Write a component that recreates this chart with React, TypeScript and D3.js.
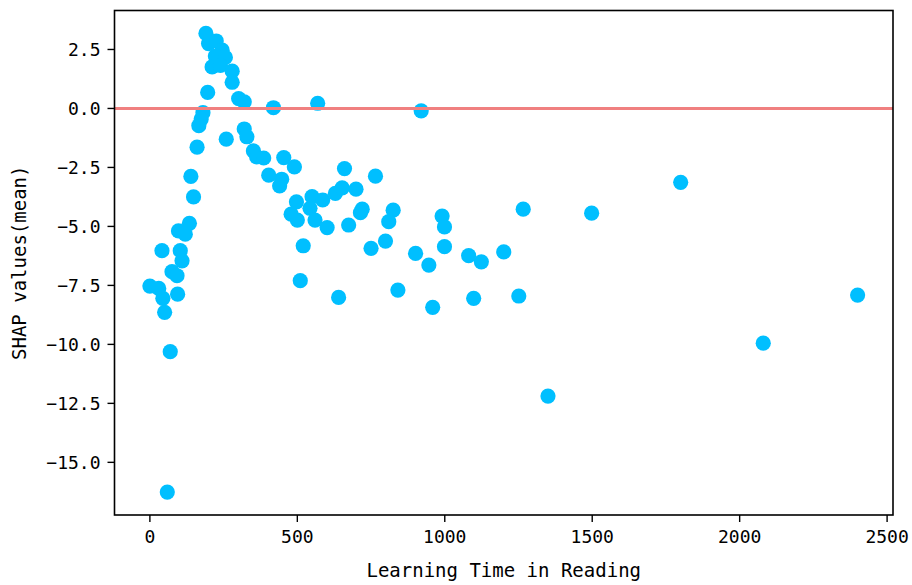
import React from "react";
import * as d3 from "d3";

// learning time (x) and mean SHAP value (y)
const learningTime = [
  190, 199, 225, 245, 222, 256, 211, 239, 279, 279,
  196, 301, 320, 419, 569, 920, 180, 174, 166, 320,
  329, 259, 160, 351, 362, 386, 454, 490, 660, 765,
  403, 139, 447, 440, 148, 497, 550, 586, 629, 652,
  699, 1800, 479, 500, 543, 560, 601, 674, 720, 714,
  825, 810, 991, 999, 1266, 1498, 134, 97, 120, 520,
  750, 799, 901, 946, 999, 1081, 1124, 1200, 41, 103,
  109, 75, 92, 0, 30, 44, 94, 50, 510, 640,
  841, 959, 1098, 1251, 2400, 69, 2080, 1350, 59,
];
const shapMean = [
  3.18, 2.75, 2.86, 2.47, 2.22, 2.16, 1.76, 1.83, 1.58, 1.11,
  0.68, 0.42, 0.28, 0.03, 0.22, -0.1, -0.18, -0.45, -0.73, -0.87,
  -1.2, -1.3, -1.64, -1.8, -2.05, -2.1, -2.08, -2.48, -2.55, -2.87,
  -2.83, -2.88, -3.0, -3.28, -3.75, -3.96, -3.74, -3.88, -3.6, -3.37,
  -3.42, -3.13, -4.48, -4.73, -4.23, -4.73, -5.05, -4.94, -4.27, -4.42,
  -4.31, -4.8, -4.56, -5.02, -4.27, -4.44, -4.87, -5.19, -5.33, -5.82,
  -5.93, -5.62, -6.14, -6.64, -5.86, -6.24, -6.5, -6.08, -6.03, -6.03,
  -6.46, -6.92, -7.09, -7.53, -7.63, -8.05, -7.87, -8.64, -7.3, -8.01,
  -7.7, -8.43, -8.05, -7.95, -7.91, -10.31, -9.95, -12.19, -16.26,
];
const xTicks = [0, 500, 1000, 1500, 2000, 2500];
const yTicks = [2.5, 0, -2.5, -5, -7.5, -10, -12.5, -15];

const W = 912, H = 585;
const left = 114.5, right = 893, top = 10.5, bottom = 515;
const font = "'DejaVu Sans Mono', monospace";

export default function App() {
  const xMin = d3.min(learningTime)!, xMax = d3.max(learningTime)!;
  const yMin = d3.min(shapMean)!, yMax = d3.max(shapMean)!;
  const xPad = (xMax - xMin) * 0.05, yPad = (yMax - yMin) * 0.05;
  const x = d3.scaleLinear().domain([xMin - xPad, xMax + xPad]).range([left, right]);
  const y = d3.scaleLinear().domain([yMin - yPad, yMax + yPad]).range([bottom, top]);
  const fmt = (v: number) => d3.format(".1f")(v).replace("-", "\u2212");
  const pts = learningTime.map((t, i) => [t, shapMean[i]]);

  return (
    <svg width={W} height={H} style={{ position: "absolute", left: 0, top: 0, background: "#fff" }}>
      <g>
        {pts.map((d, i) => (
          <circle key={i} cx={x(d[0])} cy={y(d[1])} r={7.6} fill="#00bfff" />
        ))}
      </g>
      <line x1={left} x2={right} y1={y(0)} y2={y(0)} stroke="#f08080" strokeWidth={3} />
      <rect x={left} y={top} width={right - left} height={bottom - top} fill="none" stroke="#000" strokeWidth={1.6} />
      {xTicks.map((t) => (
        <g key={t} transform={`translate(${x(t)},${bottom})`}>
          <line y2={7} stroke="#000" strokeWidth={1.4} />
          <text y={28} textAnchor="middle" fontFamily={font} fontSize={18} fill="#000">{t}</text>
        </g>
      ))}
      {yTicks.map((t) => (
        <g key={t} transform={`translate(${left},${y(t)})`}>
          <line x2={-7} stroke="#000" strokeWidth={1.4} />
          <text x={-14} dy="0.35em" textAnchor="end" fontFamily={font} fontSize={18} fill="#000">{fmt(t)}</text>
        </g>
      ))}
      <text x={(left + right) / 2} y={577} textAnchor="middle" fontFamily={font} fontSize={19} fill="#000">
        Learning Time in Reading
      </text>
      <text transform={`translate(26,${(top + bottom) / 2}) rotate(-90)`} textAnchor="middle" fontFamily={font} fontSize={19} fill="#000">
        SHAP values(mean)
      </text>
    </svg>
  );
}
